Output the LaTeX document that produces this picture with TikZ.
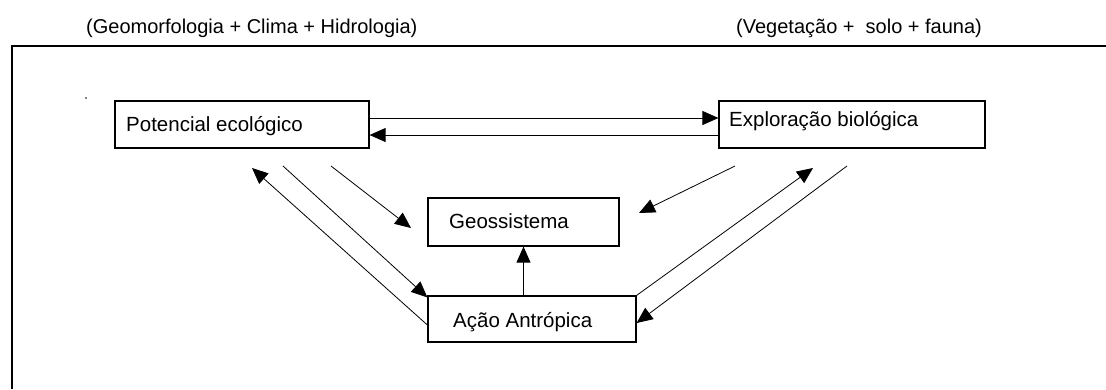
\documentclass[tikz,border=0pt]{standalone}
\usepackage{fontspec}
\setmainfont{Liberation Sans}
\usetikzlibrary{arrows.meta}
\begin{document}
\begin{tikzpicture}[x=1pt,y=-1pt,
  box/.style={draw,line width=1.2pt,inner sep=0pt,minimum width=#1},
  lbl/.style={inner sep=0pt,anchor=base west,font=\fontsize{20.5}{24}\selectfont},
  hdr/.style={lbl,font=\fontsize{20}{24}\selectfont},
  arr/.style={line width=0.8pt,-{Triangle[length=16pt,width=14pt]}}]
\useasboundingbox (0,0) rectangle (1106,389);
% frame
\draw[line width=2pt] (11.5,389) -- (11.5,46);
\draw[line width=1.2pt] (10.5,46) -- (1106,46);
\fill (86,98) circle (0.8pt);
% headers
\node[hdr] (h1) at (86,33) {(Geomorfologia + Clima + Hidrologia)};
\node[hdr] (h2) at (736,33) {(Vegetação + \ solo + fauna)};
% boxes
\node[box=254pt,minimum height=47pt] (pot) at (242,124.5) {};
\node[box=266pt,minimum height=47pt] (exp) at (852,124.5) {};
\node[box=191pt,minimum height=48pt] (geo) at (523.5,222) {};
\node[box=208pt,minimum height=46pt] (aca) at (532,319) {};
% texts
\node[lbl] (tpot) at (126,131.5) {Potencial ecológico};
\node[lbl] (texp) at (729,126.5) {Exploração biológica};
\node[lbl] (tgeo) at (449,228) {Geossistema};
\node[lbl] (taca) at (453,327) {Ação Antrópica};
% free ends
\coordinate (a1) at (252,168);
\coordinate (a2) at (283,166);
\coordinate (a3s) at (331,166);
\coordinate (a3e) at (411,228);
\coordinate (a4s) at (735,166);
\coordinate (a4e) at (639,213);
\coordinate (a5) at (813,168);
\coordinate (a6) at (847,166);
% connectors
\draw[arr] ([yshift=6.5pt]pot.east) -- ([yshift=6.5pt]pot.east -| exp.west);
\draw[arr] ([yshift=-10.5pt]exp.west) -- ([yshift=-10.5pt]exp.west -| pot.east);
\draw[arr] (aca.north -| geo.south) -- (geo.south);
\draw[arr] ([yshift=-6pt]aca.west) -- (a1);
\draw[arr] (a2) -- ([yshift=-2pt]aca.north west);
\draw[arr] (a3s) -- (a3e);
\draw[arr] (a4s) -- (a4e);
\draw[arr] (aca.north east) -- (a5);
\draw[arr] (a6) -- ([yshift=-4pt]aca.east);
\end{tikzpicture}
\end{document}
